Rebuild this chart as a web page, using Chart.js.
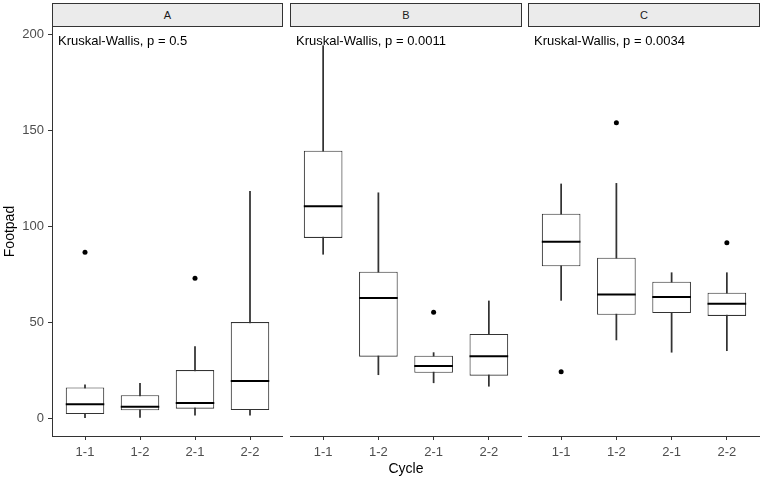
<!DOCTYPE html>
<html lang="en">
<head>
<meta charset="UTF-8">
<title>Footpad by Cycle</title>
<script src="https://cdn.jsdelivr.net/npm/chart.js"></script>
<style>
  body { margin: 0; background: #fff; font-family: "Liberation Sans", Arial, sans-serif; }
  #wrap { position: relative; width: 761px; height: 478px; }
  .strip {
    position: absolute; top: 3px; height: 24px;
    background: #ebebeb; border: 1px solid #333; box-sizing: border-box;
    font-size: 11px; color: #1a1a1a;
    display: flex; align-items: center; justify-content: center;
  }
  canvas { position: absolute; top: 27px; }
</style>
</head>
<body>
<div id="wrap">
  <div class="strip" style="left:52px;width:231px">A</div>
  <div class="strip" style="left:290px;width:232px">B</div>
  <div class="strip" style="left:528px;width:232px">C</div>
  <canvas id="panelA" width="283" height="451" style="left:0px"></canvas>
  <canvas id="panelB" width="232" height="451" style="left:290px"></canvas>
  <canvas id="panelC" width="232" height="451" style="left:528px"></canvas>
</div>

<script>
  // ---- data ----
  const panels = ['A', 'B', 'C'];
  const cycles = ['1-1', '1-2', '2-1', '2-2'];
  const kwLabels = ['Kruskal-Wallis, p = 0.5', 'Kruskal-Wallis, p = 0.0011', 'Kruskal-Wallis, p = 0.0034'];
  const labelY = 196;
  const yTicks = [0, 50, 100, 150, 200];
  const yMin = -9.2, yMax = 203.7;

  // one row per panel (A, B, C), one value per cycle
  const whiskerLow  = [[0.3, 0.5, 1.7, 1.7],      [85.4, 22.7, 18.5, 16.7],  [61.4, 40.8, 34.4, 35.2]];
  const q1          = [[2.2, 4.2, 5.0, 4.3],      [93.9, 32.1, 23.7, 22.2],  [79.1, 53.9, 54.8, 53.3]];
  const median      = [[7.3, 6.0, 8.0, 19.4],     [110.4, 62.6, 27.2, 32.3], [91.9, 64.4, 63.1, 59.7]];
  const q3          = [[16.1, 12.0, 25.1, 50.1],  [139.3, 76.3, 32.6, 43.9], [106.5, 83.6, 71.1, 65.4]];
  const whiskerHigh = [[17.5, 18.2, 37.3, 118.2], [194.0, 117.4, 34.2, 61.1],[122.0, 122.3, 75.8, 75.8]];

  const outlierCycle = [['1-1', '2-1'], ['2-1'], ['1-1', '1-2', '2-2']];
  const outlierValue = [[86.4, 72.9], [55.2], [24.3, 153.9, 91.4]];

  const FONT = '"Liberation Sans", Arial, sans-serif';

  // medians + Kruskal-Wallis label
  const boxExtras = {
    id: 'boxExtras',
    afterDatasetsDraw(chart, args, opts) {
      const { ctx, chartArea, scales: { y } } = chart;
      const p = opts.panel;
      const boxMeta = chart.getDatasetMeta(1);
      ctx.save();
      ctx.strokeStyle = '#000';
      ctx.lineWidth = 2;
      median[p].forEach((m, i) => {
        const bar = boxMeta.data[i];
        const py = y.getPixelForValue(m);
        ctx.beginPath();
        ctx.moveTo(bar.x - bar.width / 2, py);
        ctx.lineTo(bar.x + bar.width / 2, py);
        ctx.stroke();
      });
      ctx.fillStyle = '#000';
      ctx.font = '13px ' + FONT;
      ctx.textAlign = 'left';
      ctx.textBaseline = 'middle';
      ctx.fillText(kwLabels[p], chartArea.left + 6, y.getPixelForValue(labelY));
      ctx.restore();
    }
  };

  function makePanel(p, showY, showTitle) {
    const boxes = cycles.map((c, i) => ({ x: i + 1, y: [q1[p][i], q3[p][i]] }));
    const whiskers = cycles.map((c, i) => ({ x: i + 1, y: [whiskerLow[p][i], whiskerHigh[p][i]] }));
    const points = outlierCycle[p].map((c, j) => ({ x: cycles.indexOf(c) + 1, y: outlierValue[p][j] }));

    new Chart(document.getElementById('panel' + panels[p]), {
      type: 'bar',
      data: {
        datasets: [
          { type: 'scatter', data: points, pointRadius: 2.5, pointHoverRadius: 2.5, backgroundColor: '#000', borderWidth: 0, order: 0 },
          { data: boxes, backgroundColor: '#fff', borderColor: '#333', borderWidth: 1.1, borderSkipped: false,
            barPercentage: 0.7, categoryPercentage: 1, grouped: false, order: 1 },
          { data: whiskers, backgroundColor: '#333', barThickness: 1.1, grouped: false, order: 2 }
        ]
      },
      options: {
        responsive: false,
        animation: false,
        layout: { padding: 0, autoPadding: false },
        plugins: { legend: { display: false }, tooltip: { enabled: false }, boxExtras: { panel: p } },
        scales: {
          x: {
            type: 'linear', min: 0.4, max: 4.6, offset: false,
            afterBuildTicks: s => { s.ticks = cycles.map((c, i) => ({ value: i + 1 })); },
            afterFit: s => { s.height = 42; s.paddingLeft = 0; s.paddingRight = 0; },
            ticks: { callback: v => cycles[v - 1], color: '#4d4d4d', font: { size: 13, family: FONT },
                     padding: 5, autoSkip: false, maxRotation: 0 },
            grid: { display: true, offset: false, drawOnChartArea: false, drawTicks: true, tickLength: 4, tickColor: '#333' },
            border: { display: true, color: '#333', width: 1 },
            title: { display: showTitle, text: 'Cycle', color: '#000', font: { size: 14, family: FONT },
                     padding: { top: 0, bottom: 0 } }
          },
          y: {
            type: 'linear', display: showY, min: yMin, max: yMax,
            afterBuildTicks: s => { s.ticks = yTicks.map(v => ({ value: v })); },
            afterFit: s => { s.width = showY ? 52 : 0; s.paddingTop = 0; s.paddingBottom = 0; },
            ticks: { color: '#4d4d4d', font: { size: 13, family: FONT }, padding: 4 },
            grid: { display: true, drawOnChartArea: false, drawTicks: true, tickLength: 4, tickColor: '#333' },
            border: { display: true, color: '#333', width: 1 },
            title: { display: showY, text: 'Footpad', color: '#000', font: { size: 14, family: FONT },
                     padding: { top: 2, bottom: 0 } }
          }
        }
      },
      plugins: [boxExtras]
    });
  }

  makePanel(0, true, false);
  makePanel(1, false, true);
  makePanel(2, false, false);
</script>
</body>
</html>
